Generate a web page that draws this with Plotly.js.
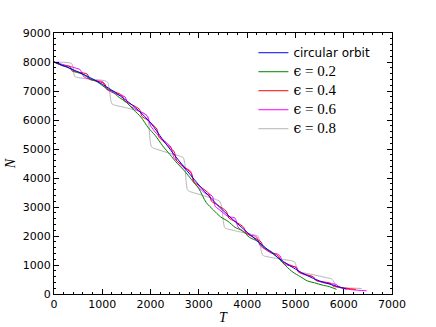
<!DOCTYPE html>
<html>
<head>
<meta charset="utf-8">
<script src="https://cdn.plot.ly/plotly-3.0.1.min.js"></script>
<style>
  html, body { margin: 0; padding: 0; background: #fff; }
  #chart { width: 436px; height: 327px; }
</style>
</head>
<body>
<div id="chart"></div>
<script>
// circular orbit
var circT = [0, 250, 500, 750, 1000, 1250, 1500, 1750, 2000, 2250, 2500, 2750, 3000,
  3250, 3500, 3750, 4000, 4250, 4500, 4750, 5000, 5250, 5500, 5750, 6000, 6060];
var circN = [8000, 7840, 7660, 7460, 7230, 6970, 6670, 6330, 5900, 5330, 4780, 4260, 3760,
  3300, 2880, 2500, 2130, 1780, 1430, 1120, 860, 630, 450, 320, 200, 170];

// e = 0.2
var e2T = [0, 150, 300, 450, 600, 750, 900, 1050, 1200, 1350, 1500, 1650, 1800, 1950,
  2100, 2250, 2400, 2550, 2700, 2850, 3000, 3150, 3300, 3450, 3600, 3750, 3900, 4050,
  4200, 4350, 4500, 4650, 4800, 4950, 5100, 5250, 5400, 5550, 5700, 5850];
var e2N = [8000, 7890, 7800, 7660, 7570, 7420, 7310, 7130, 6990, 6780, 6610, 6350, 6100, 5740,
  5460, 5110, 4810, 4510, 4250, 3940, 3630, 3160, 2900, 2660, 2510, 2300, 2180, 1950,
  1830, 1600, 1460, 1230, 970, 750, 600, 450, 385, 310, 255, 160];

// e = 0.4
var e4T = [0, 180, 330, 380, 510, 690, 740, 870, 1050, 1100, 1230, 1410, 1460, 1590, 1770,
  1820, 1950, 2130, 2180, 2310, 2490, 2540, 2670, 2850, 2900, 3030, 3210, 3260, 3390, 3570,
  3620, 3750, 3930, 3980, 4110, 4290, 4340, 4470, 4650, 4700, 4830, 5010, 5060, 5190, 5370,
  5420, 5550, 5730, 5780, 5950, 6090, 6250];
var e4N = [8000, 7870, 7850, 7680, 7650, 7580, 7400, 7350, 7250, 7060, 6990, 6850, 6650, 6550, 6370,
  6130, 5985, 5690, 5400, 5200, 4900, 4600, 4425, 4150, 3870, 3700, 3460, 3200, 3065, 2850,
  2620, 2500, 2300, 2100, 1975, 1790, 1600, 1470, 1310, 1130, 1035, 910, 760, 685, 590,
  470, 425, 370, 270, 225, 190, 160];

// e = 0.6
var e6T = [0, 150, 300, 450, 540, 600, 650, 800, 920, 1010, 1070, 1120, 1280, 1390, 1470,
  1530, 1580, 1750, 1860, 1940, 2000, 2050, 2200, 2330, 2420, 2480, 2530, 2700, 2780, 2830,
  2890, 2950, 3150, 3220, 3280, 3340, 3400, 3600, 3700, 3750, 3810, 3870, 4050, 4140, 4200,
  4260, 4320, 4500, 4610, 4680, 4740, 4800, 4950, 5020, 5080, 5200, 5300, 5360, 5420, 5600,
  5780, 5850, 5920, 6100, 6300, 6474];
var e6N = [8000, 7930, 7860, 7790, 7740, 7530, 7460, 7380, 7350, 7320, 7090, 7020, 6900, 6840, 6800,
  6560, 6480, 6310, 6230, 6120, 5800, 5680, 5390, 5220, 5070, 4720, 4620, 4330, 4300, 4230,
  3860, 3750, 3450, 3440, 3370, 3020, 2940, 2680, 2640, 2620, 2310, 2220, 2030, 2010, 1960,
  1690, 1600, 1410, 1390, 1320, 1070, 1010, 950, 930, 740, 660, 620, 600, 480, 380,
  350, 330, 220, 160, 130, 110];

// e = 0.8
var e8T = [0, 200, 330, 370, 390, 410, 430, 470, 700, 1000, 1080, 1120, 1150, 1180, 1210,
  1260, 1500, 1800, 1900, 1940, 1965, 1990, 2015, 2060, 2300, 2600, 2680, 2710, 2735, 2760,
  2800, 3000, 3350, 3430, 3470, 3500, 3530, 3580, 3800, 4150, 4220, 4260, 4290, 4320, 4370,
  4600, 4900, 4980, 5010, 5040, 5080, 5300, 5650, 5740, 5790, 5830, 5870, 6000, 6370];
var e8N = [8000, 7990, 7970, 7940, 7850, 7600, 7500, 7470, 7420, 7370, 7340, 7270, 7000, 6650, 6540,
  6510, 6420, 6280, 6200, 6100, 5800, 5300, 5080, 5030, 4900, 4760, 4700, 4500, 3900, 3600,
  3540, 3440, 3260, 3200, 3050, 2600, 2300, 2250, 2160, 2040, 2000, 1850, 1500, 1340, 1300,
  1230, 1150, 1110, 1000, 820, 760, 690, 560, 530, 450, 280, 230, 215, 190];

var serif = 'Liberation Serif, DejaVu Serif, serif';
function epsName(v) {
  return '<span style="font-family:DejaVu Serif;font-size:14px">\u03f5</span>' +
    '<span style="font-family:Liberation Serif;font-size:15px"> = ' + v + '</span>';
}

var traces = [
  {x: e8T, y: e8N, name: epsName('0.8'), legendrank: 5, mode: 'lines',
   line: {color: '#b4b4b4', width: 1, shape: 'spline', smoothing: 0.3}},
  {x: e6T, y: e6N, name: epsName('0.6'), legendrank: 4, mode: 'lines',
   line: {color: '#ff00ff', width: 1, shape: 'spline', smoothing: 0.6}},
  {x: e4T, y: e4N, name: epsName('0.4'), legendrank: 3, mode: 'lines',
   line: {color: '#ff0000', width: 1, shape: 'spline', smoothing: 0.6}},
  {x: e2T, y: e2N, name: epsName('0.2'), legendrank: 2, mode: 'lines',
   line: {color: '#008000', width: 1, shape: 'spline', smoothing: 0.8}},
  {x: circT, y: circN, name: 'circular orbit', legendrank: 1, mode: 'lines',
   line: {color: '#0000ff', width: 1, shape: 'spline'}}
];

var axisCommon = {
  showline: true, linecolor: '#000', linewidth: 1, mirror: 'allticks',
  ticks: 'inside', ticklen: 5, tickcolor: '#000', showgrid: false, zeroline: false,
  tickfont: {family: 'DejaVu Sans', size: 11, color: '#000'},
  minor: {dtick: 200, ticks: 'inside', ticklen: 2, tickcolor: '#000', showgrid: false}
};

var layout = {
  width: 436, height: 327,
  margin: {l: 54, r: 44, t: 33, b: 33},
  paper_bgcolor: '#fff', plot_bgcolor: '#fff',
  showlegend: true,
  legend: {
    x: 0.59, y: 0.98, xanchor: 'left', yanchor: 'top',
    bgcolor: 'rgba(0,0,0,0)', borderwidth: 0,
    font: {family: 'DejaVu Sans', size: 12, color: '#000'},
    tracegroupgap: 0
  },
  xaxis: Object.assign({}, axisCommon, {
    range: [0, 7000], dtick: 1000, tick0: 0,
    title: {text: '<i>T</i>', font: {family: serif, size: 14, color: '#000'}, standoff: 1}
  }),
  yaxis: Object.assign({}, axisCommon, {
    range: [0, 9000], dtick: 1000, tick0: 0,
    title: {text: '<i>N</i>', font: {family: serif, size: 14, color: '#000'}, standoff: 3}
  })
};

Plotly.newPlot('chart', traces, layout, {displayModeBar: false, staticPlot: true});
</script>
</body>
</html>
